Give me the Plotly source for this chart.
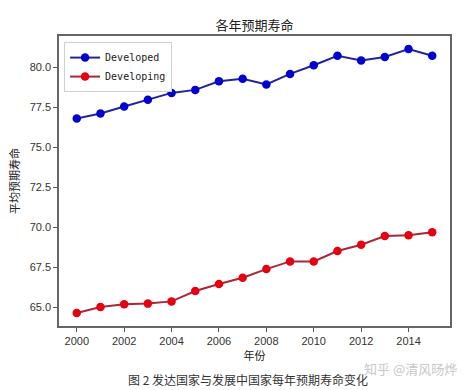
import plotly.graph_objects as go

years = list(range(2000, 2016))
developed = [76.81, 77.12, 77.56, 77.98, 78.41, 78.60, 79.14, 79.29, 78.94, 79.60,
             80.14, 80.73, 80.44, 80.66, 81.16, 80.73]
developing = [64.64, 65.02, 65.19, 65.23, 65.37, 66.02, 66.46, 66.85, 67.39, 67.87,
              67.87, 68.52, 68.91, 69.46, 69.50, 69.69]
x_ticks = [2000, 2002, 2004, 2006, 2008, 2010, 2012, 2014]
y_ticks = [65.0, 67.5, 70.0, 72.5, 75.0, 77.5, 80.0]

CJK = "Noto Sans CJK SC"

fig = go.Figure()
fig.add_trace(go.Scatter(
    x=years, y=developed, mode="lines+markers", name="Developed",
    line=dict(color="#24249a", width=2),
    marker=dict(color="#0000d0", size=8.5),
))
fig.add_trace(go.Scatter(
    x=years, y=developing, mode="lines+markers", name="Developing",
    line=dict(color="#a8283a", width=2),
    marker=dict(color="#e60010", size=8.5),
))

fig.update_layout(
    width=474, height=390,
    margin=dict(l=59, r=24, t=36, b=64),
    paper_bgcolor="white", plot_bgcolor="white",
    title=dict(text="各年预期寿命", x=0.537, xanchor="center",
               y=1 - 25 / 390, yanchor="middle",
               font=dict(family=CJK, size=13, color="#222")),
    showlegend=True,
    legend=dict(x=0.013, y=0.979, xanchor="left", yanchor="top",
                bgcolor="white", bordercolor="#d0d0d0", borderwidth=1,
                font=dict(family="DejaVu Sans Mono", size=10, color="#222"),
                tracegroupgap=0, itemwidth=30),
    font=dict(family=CJK, color="#333"),
)
fig.update_xaxes(
    range=[1999.25, 2015.75], tickvals=x_ticks,
    ticktext=[str(v) for v in x_ticks],
    showgrid=False, zeroline=False,
    showline=True, mirror=True, linecolor="#666", linewidth=1.5,
    ticks="outside", ticklen=4, tickcolor="#555",
    tickfont=dict(family="Liberation Sans Narrow, Liberation Sans", size=11, color="#333"),
    title=dict(text="年份", font=dict(family=CJK, size=11, color="#222"), standoff=4),
)
fig.update_yaxes(
    range=[63.83, 81.97], tickvals=y_ticks,
    ticktext=[f"{v:.1f}" for v in y_ticks],
    showgrid=False, zeroline=False,
    showline=True, mirror=True, linecolor="#666", linewidth=1.5,
    ticks="outside", ticklen=4, tickcolor="#555",
    tickfont=dict(family="Liberation Sans Narrow, Liberation Sans", size=11, color="#333"),
    title=dict(text="平均预期寿命", font=dict(family=CJK, size=11, color="#222"), standoff=8),
)

fig.add_annotation(
    text="图 2 发达国家与发展中国家每年预期寿命变化",
    xref="paper", yref="paper", x=(248 - 59) / 391, y=(326 - 379) / 290,
    xanchor="center", yanchor="middle", showarrow=False,
    font=dict(family=CJK, size=12, color="#333"),
)
fig.add_annotation(
    text="知乎 @清风旸烨",
    xref="paper", yref="paper", x=(410 - 59) / 391, y=(326 - 368) / 290,
    xanchor="center", yanchor="middle", showarrow=False,
    font=dict(family=CJK, size=13, color="#c8c8c8"),
)

fig.write_html(
    "out.html",
    config={"displayModeBar": False},
    post_script="document.body.style.margin='0';document.body.style.padding='0';"
                "document.documentElement.style.overflow='hidden';",
)
